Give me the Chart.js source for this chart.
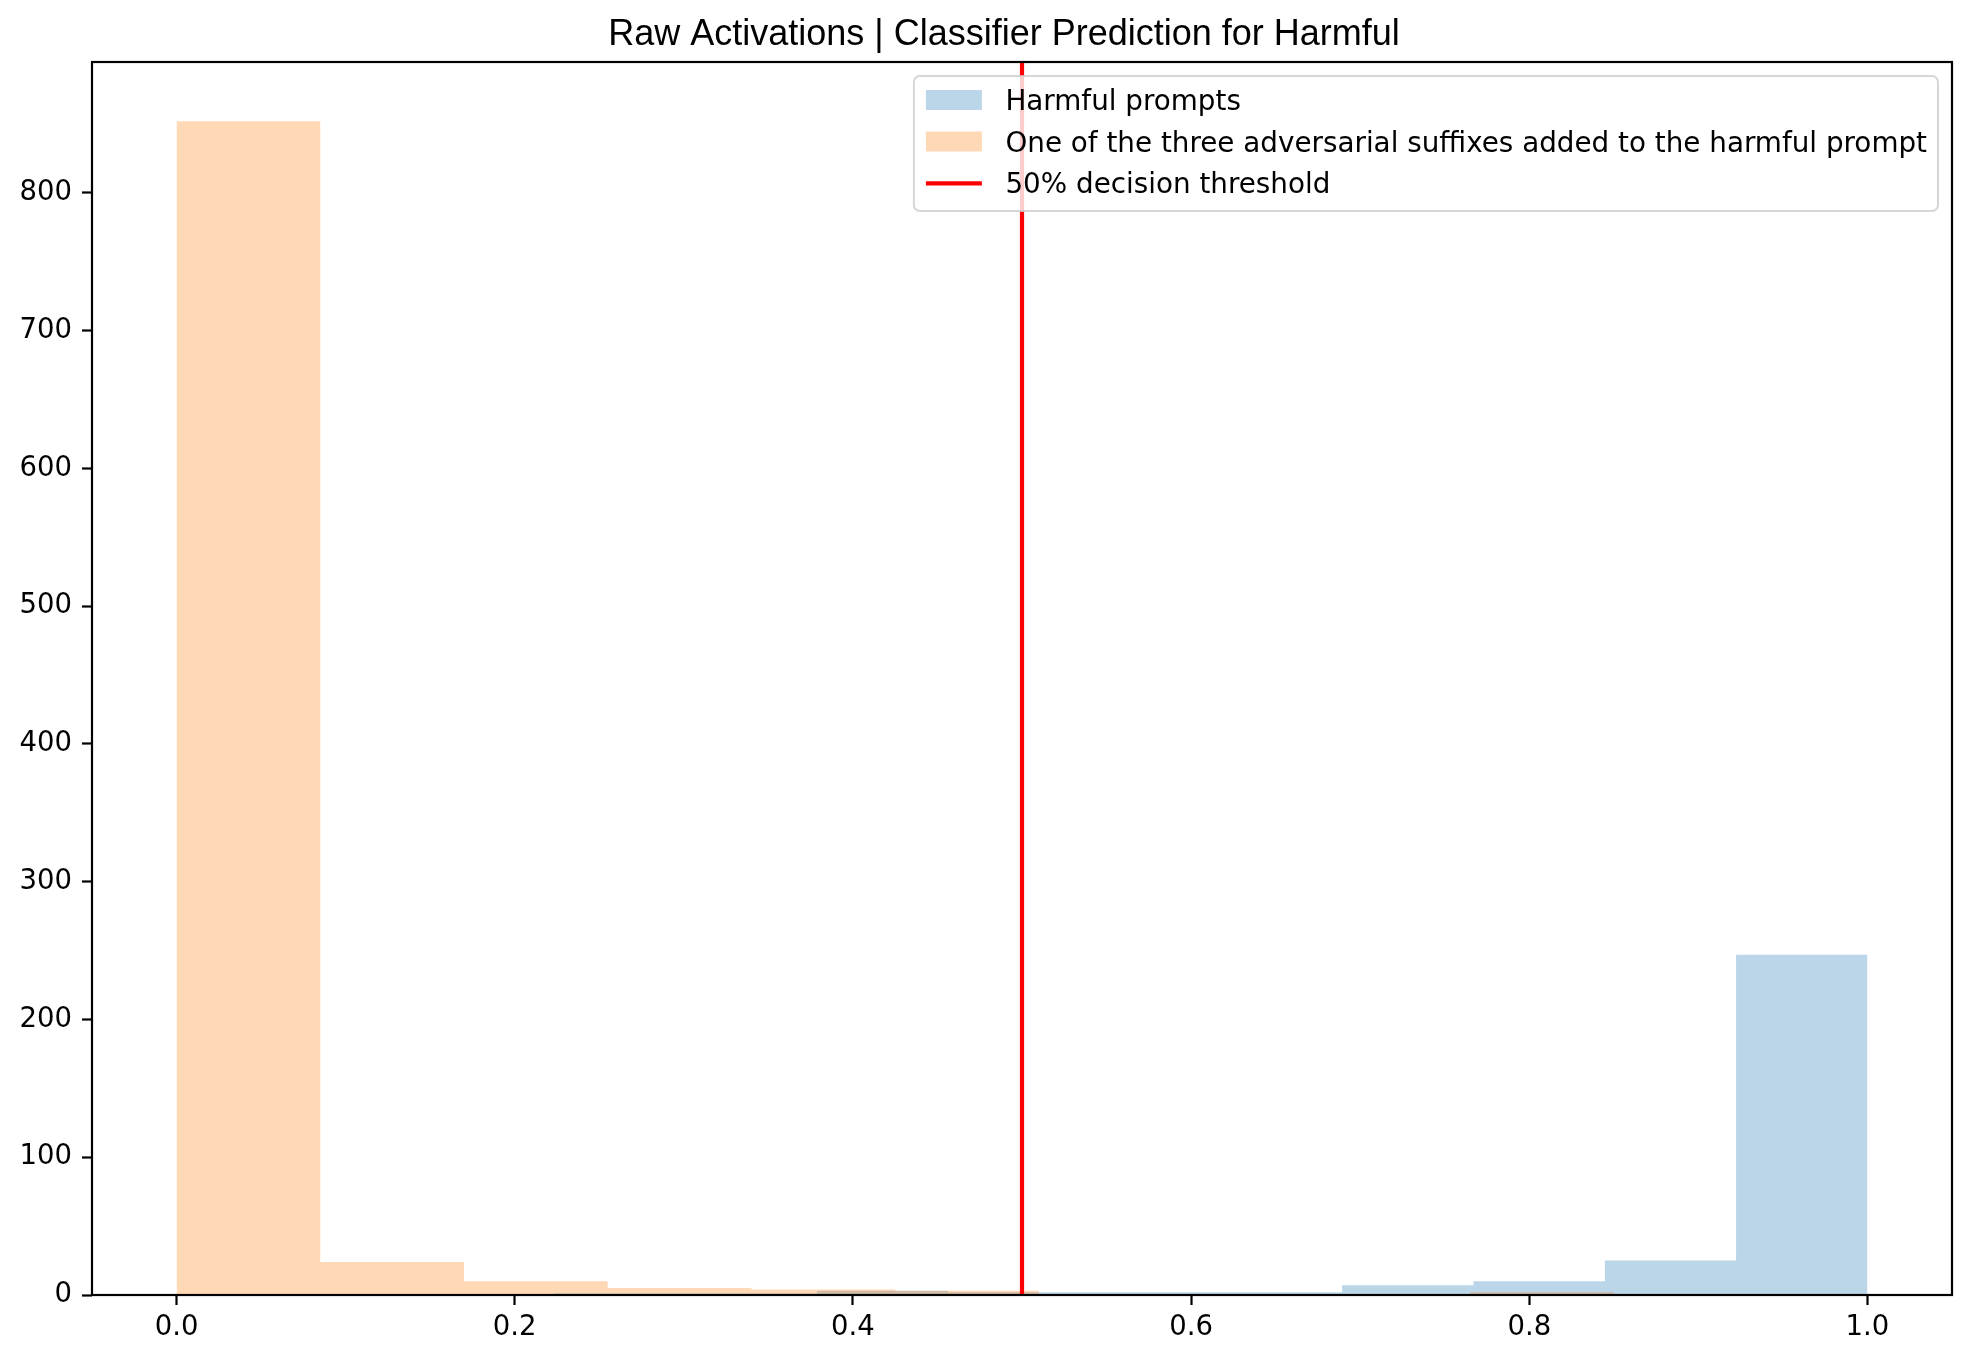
<!DOCTYPE html>
<html lang="en">
<head>
  <meta charset="UTF-8" />
  <title>Raw Activations | Classifier Prediction for Harmful</title>
  <script src="https://cdn.jsdelivr.net/npm/chart.js"></script>
  <style>
    html, body { margin: 0; padding: 0; background: #fff; }
    #wrap { width: 1972px; height: 1362px; }
  </style>
</head>
<body>
  <div id="wrap"><canvas id="histChart" width="1972" height="1362"></canvas></div>

  <script>
  // Chart text
  const chartTitle = 'Raw Activations | Classifier Prediction for Harmful';
  const seriesLabels = [
    'Harmful prompts',
    'One of the three adversarial suffixes added to the harmful prompt',
    '50% decision threshold'
  ];

  // Histogram bins (edges) and counts
  const harmfulEdges = [0.2233, 0.301, 0.3787, 0.4563, 0.534, 0.6117, 0.6893, 0.767, 0.8447, 0.9223, 1.0];
  const harmfulCounts = [1, 1, 3, 2, 2, 2, 7, 10, 25, 247];
  const suffixEdges = [0.0, 0.085, 0.17, 0.255, 0.34, 0.425, 0.51, 0.595, 0.68, 0.765, 0.85];
  const suffixCounts = [852, 24, 10, 5, 4, 3, 0, 0, 0, 2];
  const threshold = 0.5;

  // Axes
  const xTicks = [0.0, 0.2, 0.4, 0.6, 0.8, 1.0];
  const yTicks = [0, 100, 200, 300, 400, 500, 600, 700, 800];
  const xMin = -0.05, xMax = 1.05;
  const yMax = 895;

  const blueFill = 'rgba(31, 119, 180, 0.3)';
  const orangeFill = 'rgba(255, 127, 14, 0.3)';

  // turn bin edges + counts into step points (last edge closes the last bin)
  function stepPoints(edges, counts) {
    const pts = counts.map((c, i) => ({ x: edges[i], y: c }));
    pts.push({ x: edges[edges.length - 1], y: counts[counts.length - 1] });
    return pts;
  }

  const tickFont = { family: 'DejaVu Sans', size: 27.5 };

  // spines on top of the bars, then legend box, then title
  const decorations = {
    id: 'decorations',
    afterDatasetsDraw(chart) {
      const { ctx, chartArea: a } = chart;
      ctx.save();
      ctx.strokeStyle = '#000';
      ctx.lineWidth = 2.2;
      ctx.strokeRect(a.left, a.top, a.right - a.left, a.bottom - a.top);
      ctx.restore();
    },
    afterDraw(chart) {
      const ctx = chart.ctx;
      const ds = chart.data.datasets;

      // legend
      ctx.save();
      ctx.font = '27.8px "DejaVu Sans"';
      const textW = Math.max(...seriesLabels.map(t => ctx.measureText(t).width));
      const right = 1938, top = 76, bottom = 211;
      const left = right - (12 + 56 + 23.5 + textW + 11);
      ctx.beginPath();
      ctx.roundRect(left, top, right - left, bottom - top, 6);
      ctx.fillStyle = 'rgba(255,255,255,0.8)';
      ctx.fill();
      ctx.strokeStyle = 'rgba(204,204,204,0.8)';
      ctx.lineWidth = 2;
      ctx.stroke();

      const rows = [top + 24, top + 65.5, top + 107.3];
      const hx = left + 12;
      // patches
      ctx.fillStyle = ds[2].backgroundColor;
      ctx.fillRect(hx, rows[0] - 10, 56, 20);
      ctx.fillStyle = ds[1].backgroundColor;
      ctx.fillRect(hx, rows[1] - 10, 56, 20);
      // line
      ctx.strokeStyle = ds[0].borderColor;
      ctx.lineWidth = 4.2;
      ctx.beginPath();
      ctx.moveTo(hx, rows[2]);
      ctx.lineTo(hx + 56, rows[2]);
      ctx.stroke();

      ctx.fillStyle = '#000';
      ctx.textBaseline = 'alphabetic';
      seriesLabels.forEach((t, i) => ctx.fillText(t, hx + 56 + 23.5, rows[i] + 10));

      // title
      ctx.font = '36px "Liberation Sans"';
      ctx.textAlign = 'center';
      ctx.fillText(chartTitle, 1004, 44.5);
      ctx.restore();
    }
  };

  const ctx = document.getElementById('histChart').getContext('2d');

  // datasets drawn in reverse index order: harmful first, suffix over it, threshold on top
  const histChart = new Chart(ctx, {
    type: 'line',
    data: {
      datasets: [
        {
          label: seriesLabels[2],
          data: [{ x: threshold, y: 0 }, { x: threshold, y: yMax }],
          borderColor: '#ff0000',
          borderWidth: 4.2,
          fill: false
        },
        {
          label: seriesLabels[1],
          data: stepPoints(suffixEdges, suffixCounts),
          stepped: true,
          backgroundColor: orangeFill,
          borderColor: 'rgba(0,0,0,0)',
          borderWidth: 0,
          fill: 'origin'
        },
        {
          label: seriesLabels[0],
          data: stepPoints(harmfulEdges, harmfulCounts),
          stepped: true,
          backgroundColor: blueFill,
          borderColor: 'rgba(0,0,0,0)',
          borderWidth: 0,
          fill: 'origin'
        }
      ]
    },
    options: {
      responsive: false,
      animation: false,
      layout: { padding: { left: 0, right: 20, top: 62, bottom: 0 } },
      elements: { point: { radius: 0, hoverRadius: 0 } },
      plugins: {
        legend: { display: false },
        title: { display: false },
        tooltip: { enabled: false }
      },
      scales: {
        x: {
          type: 'linear',
          min: xMin,
          max: xMax,
          afterBuildTicks: s => { s.ticks = xTicks.map(v => ({ value: v })); },
          afterFit: s => { s.height = 67; },
          grid: { drawOnChartArea: false, tickLength: 10, tickWidth: 2.2, tickColor: '#000' },
          border: { display: false },
          ticks: {
            color: '#000',
            font: tickFont,
            padding: 6,
            maxRotation: 0,
            autoSkip: false,
            callback: v => v.toFixed(1)
          }
        },
        y: {
          min: 0,
          max: yMax,
          afterBuildTicks: s => { s.ticks = yTicks.map(v => ({ value: v })); },
          afterFit: s => { s.width = 92; },
          grid: { drawOnChartArea: false, tickLength: 10, tickWidth: 2.2, tickColor: '#000' },
          border: { display: false },
          ticks: {
            color: '#000',
            font: tickFont,
            padding: 10,
            autoSkip: false,
            callback: v => String(v)
          }
        }
      }
    },
    plugins: [decorations]
  });
  </script>
</body>
</html>
